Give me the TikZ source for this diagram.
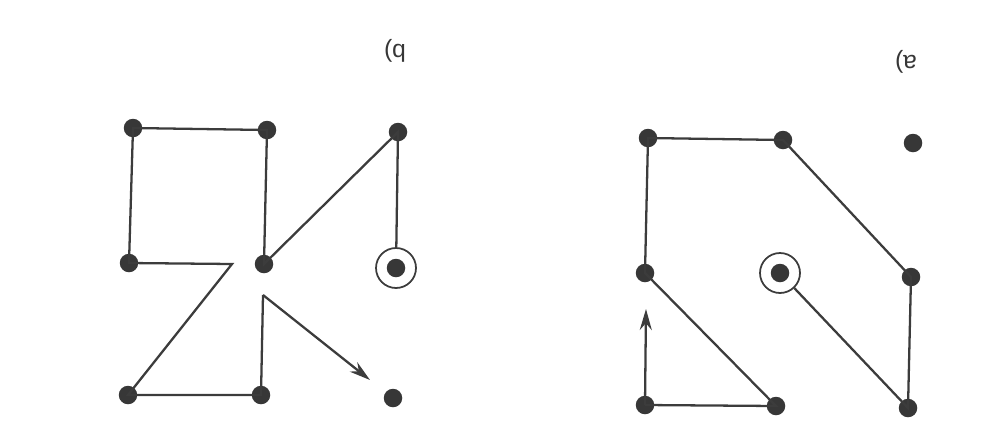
\documentclass[tikz,border=0pt]{standalone}
\usepackage{fontspec}
\setsansfont{Liberation Sans}
\usetikzlibrary{arrows.meta}
\definecolor{dotc}{RGB}{55,55,55}
\definecolor{linec}{RGB}{60,60,60}
\begin{document}
\begin{tikzpicture}[x=0.02cm,y=-0.02cm,
  dot/.style={circle,fill=dotc,draw=none,inner sep=0pt,minimum size=0.37cm},
  ring/.style={circle,draw=linec,line width=1pt,inner sep=0pt,minimum size=0.8cm},
  edge/.style={draw=linec,line width=1.3pt},
  arr/.style={edge,-{Stealth[length=0.42cm,width=0.24cm]}},
  lbl/.style={rotate=180,font=\sffamily\fontsize{14}{16}\selectfont,text=dotc,inner sep=0pt}]
\useasboundingbox (0,0) rectangle (1001,427);
% ---------- panel b (left) ----------
\node[dot] (bTL) at (133,128) {};
\node[dot] (bTM) at (267,130) {};
\node[dot] (bTR) at (398,132) {};
\node[dot] (bML) at (129,263) {};
\node[dot] (bMM) at (264,264) {};
\node[dot] (bMR) at (396,268) {};
\node[ring] (bRing) at (396,268) {};
\node[dot] (bBL) at (128,395) {};
\node[dot] (bBM) at (261,395) {};
\node[dot] (bBR) at (393,398) {};
\coordinate (bK1) at (232,264);
\coordinate (bK2) at (263,295);
\coordinate (bTip) at (370,380);
\draw[edge] (bRing) -- (bTR.center) -- (bMM.center) -- (bTM.center) -- (bTL.center) -- (bML.center) -- (bK1) -- (bBL.center) -- (bBM.center) -- (bK2);
\draw[arr] (bK2) -- (bTip);
\node[lbl] (lb) at (395,51) {b)};
% ---------- panel a (right) ----------
\node[dot] (aTL) at (648,138) {};
\node[dot] (aTM) at (783,140) {};
\node[dot] (aTR) at (913,143) {};
\node[dot] (aML) at (645,273) {};
\node[dot] (aMM) at (780,273) {};
\node[ring] (aRing) at (780,273) {};
\node[dot] (aMR) at (911,277) {};
\node[dot] (aBL) at (645,405) {};
\node[dot] (aBM) at (776,406) {};
\node[dot] (aBR) at (908,408) {};
\coordinate (aTip) at (646,309);
\draw[edge] (aRing) -- (aBR.center) -- (aMR.center) -- (aTM.center) -- (aTL.center) -- (aML.center) -- (aBM.center) -- (aBL.center);
\draw[arr] (aBL.center) -- (aTip);
\node[lbl] (la) at (906,62) {a)};
\end{tikzpicture}
\end{document}
